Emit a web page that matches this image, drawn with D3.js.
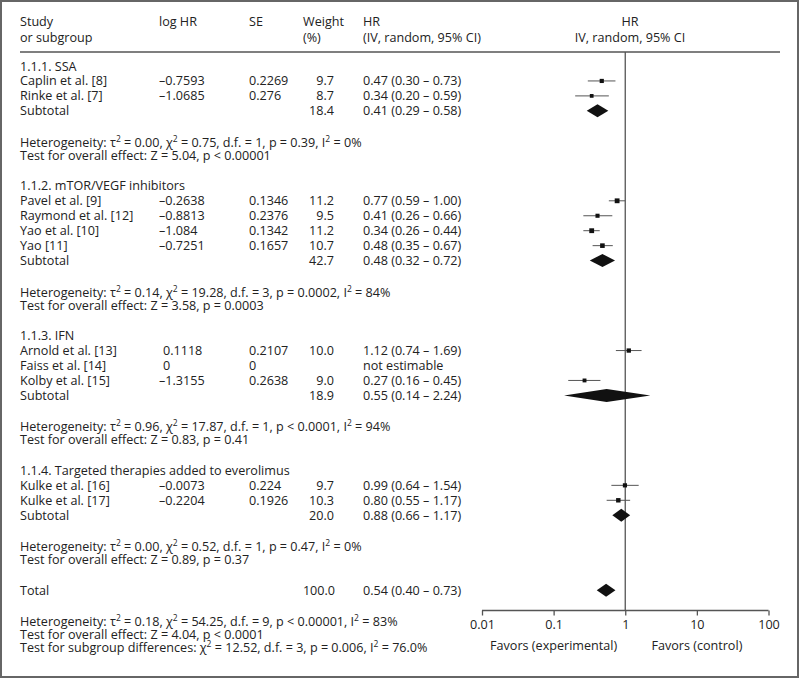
<!DOCTYPE html>
<html><head><meta charset="utf-8">
<script src="https://cdn.jsdelivr.net/npm/d3@7"></script>
<style>
html,body{margin:0;padding:0;background:#fff;}
svg text{font-family:"Open Sans","Noto Sans",sans-serif;fill:#222;}
</style></head>
<body><svg id="c" width="800" height="679"></svg>
<script>
// ---- data ----
const sectionTitles = ["1.1.1. SSA", "1.1.2. mTOR/VEGF inhibitors", "1.1.3. IFN", "1.1.4. Targeted therapies added to everolimus"];
const studyNames = ["Caplin et al. [8]", "Rinke et al. [7]", "Pavel et al. [9]", "Raymond et al. [12]", "Yao et al. [10]", "Yao [11]", "Arnold et al. [13]", "Faiss et al. [14]", "Kolby et al. [15]", "Kulke et al. [16]", "Kulke et al. [17]"];
const studySection = [0, 0, 1, 1, 1, 1, 2, 2, 2, 3, 3];
const studyLogHR = ["–0.7593", "–1.0685", "–0.2638", "–0.8813", "–1.084", "–0.7251", "0.1118", "0", "–1.3155", "–0.0073", "–0.2204"];
const studySE = ["0.2269", "0.276", "0.1346", "0.2376", "0.1342", "0.1657", "0.2107", "0", "0.2638", "0.224", "0.1926"];
const studyWeight = [9.7, 8.7, 11.2, 9.5, 11.2, 10.7, 10.0, null, 9.0, 9.7, 10.3];
const studyHR = [0.47, 0.34, 0.77, 0.41, 0.34, 0.48, 1.12, null, 0.27, 0.99, 0.80];
const studyLo = [0.30, 0.20, 0.59, 0.26, 0.26, 0.35, 0.74, null, 0.16, 0.64, 0.55];
const studyHi = [0.73, 0.59, 1.00, 0.66, 0.44, 0.67, 1.69, null, 0.45, 1.54, 1.17];
const subWeight = [18.4, 42.7, 18.9, 20.0];
const subHR = [0.41, 0.48, 0.55, 0.88];
const subLo = [0.29, 0.32, 0.14, 0.66];
const subHi = [0.58, 0.72, 2.24, 1.17];
const hetTau2 = ["0.00", "0.14", "0.96", "0.00"];
const hetChi2 = ["0.75", "19.28", "17.87", "0.52"];
const hetDf = ["1", "3", "1", "1"];
const hetP = ["= 0.39", "= 0.0002", "< 0.0001", "= 0.47"];
const hetI2 = ["0%", "84%", "94%", "0%"];
const testZ = ["5.04", "3.58", "0.83", "0.89"];
const testP = ["< 0.00001", "= 0.0003", "= 0.41", "= 0.37"];
const totalWeight = 100.0, totalHR = 0.54, totalLo = 0.40, totalHi = 0.73;
const totalHet = {tau2: "0.18", chi2: "54.25", df: "9", p: "< 0.00001", i2: "83%"};
const totalTest = {z: "4.04", p: "< 0.0001"};
const subgroupDiff = {chi2: "12.52", df: "3", p: "= 0.006", i2: "76.0%"};
const axisTicks = [0.01, 0.1, 1, 10, 100];
const axisTickLabels = ["0.01", "0.1", "1", "10", "100"];
const favorsLabels = ["Favors (experimental)", "Favors (control)"];

// ---- layout ----
const svg = d3.select("#c");
const FS = 12.6;
const rowH = 14.95;
const colStudy = 20, colLog = 159, colSE = 249, colW = 334, colHR = 363;
const x = d3.scaleLog().domain([0.01, 100]).range([482, 768.5]);
const fmt2 = d3.format(".2f"), fmt1 = d3.format(".1f");
const axisY = 610.5;
const ink = "#222", lineCol = "#555";

// frame
svg.append("rect").attr("x", 1).attr("y", 1).attr("width", 797).attr("height", 676)
  .attr("fill", "none").attr("stroke", "#666").attr("stroke-width", 2);

function txt(xp, yp, s, anchor) {
  return svg.append("text").attr("x", xp).attr("y", yp).attr("font-size", FS)
    .attr("text-anchor", anchor || "start").text(s);
}
function sup(t, base, exp, rest) {
  t.append("tspan").text(base);
  t.append("tspan").attr("font-size", 8.5).attr("dy", -5).text(exp);
  t.append("tspan").attr("dy", 5).text(rest);
}
function hetLine(yp, tau2, chi2, df, p, i2) {
  const t = svg.append("text").attr("x", colStudy).attr("y", yp).attr("font-size", FS);
  t.append("tspan").text("Heterogeneity: τ");
  t.append("tspan").attr("font-size", 8.5).attr("dy", -5).text("2");
  t.append("tspan").attr("dy", 5).text(" = " + tau2 + ", χ");
  t.append("tspan").attr("font-size", 8.5).attr("dy", -5).text("2");
  t.append("tspan").attr("dy", 5).text(" = " + chi2 + ", d.f. = " + df + ", p " + p + ", I");
  t.append("tspan").attr("font-size", 8.5).attr("dy", -5).text("2");
  t.append("tspan").attr("dy", 5).text(" = " + i2);
}
const hrText = (h, l, u) => fmt2(h) + " (" + fmt2(l) + " – " + fmt2(u) + ")";
function diamond(yc, h, l, u) {
  const hh = 6.5;
  svg.append("path").attr("d",
    `M${x(l)},${yc} L${x(h)},${yc - hh} L${x(u)},${yc} L${x(h)},${yc + hh} Z`)
    .attr("fill", "#111");
}

// header
const B = 4.5; // center -> baseline
txt(colStudy, 26, "Study"); txt(colStudy, 42, "or subgroup");
txt(colLog, 26, "log HR"); txt(colSE, 26, "SE");
txt(303, 26, "Weight"); txt(303, 42, "(%)");
txt(colHR, 26, "HR"); txt(colHR, 42, "(IV, random, 95% CI)");
txt(630, 26, "HR", "middle"); txt(630, 42, "IV, random, 95% CI", "middle");
svg.append("line").attr("x1", 20).attr("x2", 780).attr("y1", 52).attr("y2", 52)
  .attr("stroke", lineCol).attr("stroke-width", 1.5);

// vertical null line
svg.append("line").attr("x1", x(1)).attr("x2", x(1)).attr("y1", 52).attr("y2", axisY)
  .attr("stroke", lineCol).attr("stroke-width", 1.3);

// rows
let y = 66;
sectionTitles.forEach((title, k) => {
  txt(colStudy, y + B, title);
  studyNames.forEach((name, i) => {
    if (studySection[i] !== k) return;
    y += rowH;
    txt(colStudy, y + B, name);
    const lg = studyLogHR[i];
    txt(lg.startsWith("–") ? colLog : colLog + 4, y + B, lg);
    txt(colSE, y + B, studySE[i]);
    if (studyWeight[i] != null) txt(colW, y + B, fmt1(studyWeight[i]), "end");
    if (studyHR[i] != null) {
      txt(colHR, y + B, hrText(studyHR[i], studyLo[i], studyHi[i]));
      svg.append("line").attr("x1", x(studyLo[i])).attr("x2", x(studyHi[i]))
        .attr("y1", y).attr("y2", y).attr("stroke", lineCol).attr("stroke-width", 1);
      const s = studyWeight[i] * 0.43;
      svg.append("rect").attr("x", x(studyHR[i]) - s / 2).attr("y", y - s / 2)
        .attr("width", s).attr("height", s).attr("fill", "#111");
    } else {
      txt(colHR, y + B, "not estimable");
    }
  });
  y += rowH;
  txt(colStudy, y + B, "Subtotal");
  txt(colW, y + B, fmt1(subWeight[k]), "end");
  txt(colHR, y + B, hrText(subHR[k], subLo[k], subHi[k]));
  diamond(y, subHR[k], subLo[k], subHi[k]);
  y += 31.5;
  hetLine(y + B, hetTau2[k], hetChi2[k], hetDf[k], hetP[k], hetI2[k]);
  y += 13;
  txt(colStudy, y + B, "Test for overall effect: Z = " + testZ[k] + ", p " + testP[k]);
  y += 30.5;
});
// total
txt(colStudy, y + B, "Total");
txt(colW + 1, y + B, fmt1(totalWeight), "end");
txt(colHR, y + B, hrText(totalHR, totalLo, totalHi));
diamond(y, totalHR, totalLo, totalHi);
y += 31;
hetLine(y + B, totalHet.tau2, totalHet.chi2, totalHet.df, totalHet.p, totalHet.i2);
y += 13;
txt(colStudy, y + B, "Test for overall effect: Z = " + totalTest.z + ", p " + totalTest.p);
y += 13;
{
  const t = svg.append("text").attr("x", colStudy).attr("y", y + B).attr("font-size", FS);
  t.append("tspan").text("Test for subgroup differences: χ");
  t.append("tspan").attr("font-size", 8.5).attr("dy", -5).text("2");
  t.append("tspan").attr("dy", 5).text(" = " + subgroupDiff.chi2 + ", d.f. = " + subgroupDiff.df + ", p " + subgroupDiff.p + ", I");
  t.append("tspan").attr("font-size", 8.5).attr("dy", -5).text("2");
  t.append("tspan").attr("dy", 5).text(" = " + subgroupDiff.i2);
}

// axis
const ax = svg.append("g").attr("transform", `translate(0,${axisY})`)
  .call(d3.axisBottom(x).tickValues(axisTicks).tickFormat((d, i) => axisTickLabels[i]).tickSize(5).tickPadding(5));
ax.select(".domain").attr("stroke", lineCol).attr("stroke-width", 1.3).attr("d", `M${x(0.01)},0H${x(100)}`);
ax.selectAll(".tick line").attr("stroke", lineCol).attr("stroke-width", 1.3);
ax.selectAll(".tick text").attr("font-size", FS).attr("font-family", '"Open Sans","Noto Sans",sans-serif').attr("fill", ink);
txt(x(0.1), 650, favorsLabels[0], "middle");
txt(x(10), 650, favorsLabels[1], "middle");
</script></body></html>
